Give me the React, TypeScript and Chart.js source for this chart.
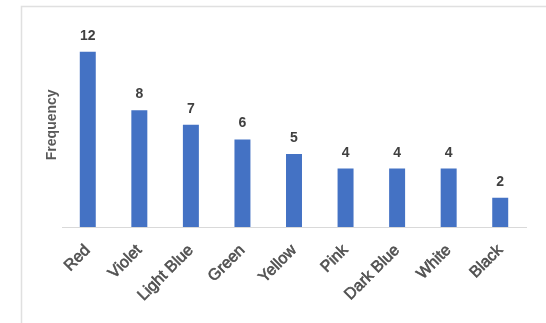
import React, { useEffect, useRef } from "react";
import { Chart, registerables } from "chart.js";

Chart.register(...registerables);

const categories = ["Red", "Violet", "Light Blue", "Green", "Yellow", "Pink", "Dark Blue", "White", "Black"];
const frequencies = [12, 8, 7, 6, 5, 4, 4, 4, 2];
const yTitle = "Frequency";

const borderPlugin = {
  id: "frameBorder",
  beforeDraw(chart: any) {
    const ctx = chart.ctx;
    ctx.save();
    ctx.strokeStyle = "#e0e0e0";
    ctx.lineWidth = 1.5;
    ctx.beginPath();
    ctx.moveTo(21.5, chart.height);
    ctx.lineTo(21.5, 6.5);
    ctx.lineTo(chart.width, 6.5);
    ctx.stroke();
    ctx.restore();
  },
};

const valueLabelPlugin = {
  id: "valueLabels",
  afterDatasetsDraw(chart: any) {
    const ctx = chart.ctx;
    const meta = chart.getDatasetMeta(0);
    const data = chart.data.datasets[0].data;
    ctx.save();
    ctx.font = "bold 14px 'Liberation Sans', Arial, sans-serif";
    ctx.fillStyle = "#404040";
    ctx.textAlign = "center";
    ctx.textBaseline = "alphabetic";
    meta.data.forEach((bar: any, i: number) => {
      ctx.fillText(String(data[i]), bar.x, bar.y - 12);
    });
    ctx.restore();
  },
};

export default function App() {
  const canvasRef = useRef<HTMLCanvasElement | null>(null);

  useEffect(() => {
    if (!canvasRef.current) return;
    const chart = new Chart(canvasRef.current, {
      type: "bar",
      data: {
        labels: categories,
        datasets: [
          {
            data: frequencies,
            backgroundColor: "#4472C4",
            borderWidth: 0,
            barPercentage: 1,
            categoryPercentage: 0.31,
          },
        ],
      },
      options: {
        animation: false,
        responsive: false,
        maintainAspectRatio: false,
        layout: { padding: { left: 44, right: 20, top: 22.6, bottom: 0 } },
        plugins: {
          legend: { display: false },
          tooltip: { enabled: false },
        },
        scales: {
          x: {
            grid: { display: false, drawTicks: false },
            border: { display: true, color: "#d9d9d9", width: 1 },
            ticks: {
              minRotation: 45,
              maxRotation: 45,
              padding: 14,
              color: "#505050",
              textStrokeColor: "#505050",
              textStrokeWidth: 0.6,
              font: { family: "'Liberation Sans', Arial, sans-serif", size: 16 },
            },
            afterFit: (scale: any) => {
              scale.height = 96;
            },
          },
          y: {
            min: 0,
            max: 14,
            grid: { display: false, drawTicks: false },
            border: { display: false },
            ticks: { display: false },
            title: {
              display: true,
              text: yTitle,
              color: "#595959",
              padding: { top: 0, bottom: 0 },
              font: { family: "'Liberation Sans', Arial, sans-serif", size: 14, weight: "bold" },
            },
            afterFit: (scale: any) => {
              scale.width = 18;
            },
          },
        },
      },
      plugins: [borderPlugin, valueLabelPlugin],
    });
    return () => chart.destroy();
  }, []);

  return (
    <div style={{ position: "fixed", left: 0, top: 0, width: 546, height: 323, background: "#ffffff" }}>
      <canvas ref={canvasRef} width={546} height={323} style={{ width: 546, height: 323, display: "block" }} />
    </div>
  );
}
